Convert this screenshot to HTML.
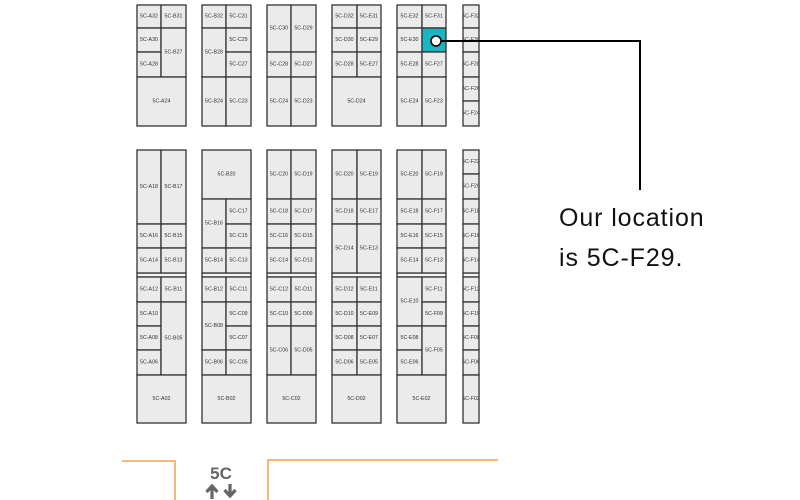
<!DOCTYPE html>
<html><head><meta charset="utf-8"><style>
html,body{margin:0;padding:0;background:#fff;width:800px;height:500px;overflow:hidden}
svg{display:block}
.c{fill:#ebebeb;stroke:#333;stroke-width:1.3}
.t{font-family:"Liberation Sans",sans-serif;font-size:5.3px;fill:#333;text-anchor:middle;dominant-baseline:central}
</style></head><body>
<svg id="s" width="800" height="500" viewBox="0 0 800 500" xmlns="http://www.w3.org/2000/svg">
<g id="g"></g>
<line x1="436" y1="41" x2="640" y2="41" stroke="#000" stroke-width="2"/>
<line x1="640" y1="40" x2="640" y2="190" stroke="#000" stroke-width="2"/>
<circle cx="436" cy="41" r="5" fill="#fff" stroke="#000" stroke-width="1.5"/>
<text x="559" y="226" font-family="Liberation Sans, sans-serif" font-size="25" letter-spacing="0.9" fill="#111">Our location</text>
<text x="559" y="266" font-family="Liberation Sans, sans-serif" font-size="25" letter-spacing="0.9" fill="#111">is 5C-F29.</text>
<polyline points="122,461 175,461 175,500" fill="none" stroke="#f5a04a" stroke-width="1.5"/>
<polyline points="268,500 268,460 498,460" fill="none" stroke="#f5a04a" stroke-width="1.5"/>
<text x="221" y="479" font-family="Liberation Sans, sans-serif" font-size="17" font-weight="bold" fill="#666" text-anchor="middle">5C</text>
<path d="M212,499 V488 M206.5,492 L212,486 L217.5,492" fill="none" stroke="#666" stroke-width="3.2"/>
<path d="M230,484 V495 M224.5,490 L230,496 L235.5,490" fill="none" stroke="#666" stroke-width="3.2"/>
</svg>
<script>
var cells=[
[137,5,161,28,"5C-A32"],[161,5,186,28,"5C-B31"],[137,28,161,52,"5C-A30"],[137,52,161,77,"5C-A28"],[161,28,186,77,"5C-B27"],[137,77,186,126,"5C-A24"],
[202,5,226,28,"5C-B32"],[226,5,251,28,"5C-C31"],[202,28,226,77,"5C-B28"],[226,28,251,52,"5C-C29"],[226,52,251,77,"5C-C27"],[202,77,226,126,"5C-B24"],[226,77,251,126,"5C-C23"],
[267,5,291,52,"5C-C30"],[291,5,316,52,"5C-D29"],[267,52,291,77,"5C-C28"],[291,52,316,77,"5C-D27"],[267,77,291,126,"5C-C24"],[291,77,316,126,"5C-D23"],
[332,5,357,28,"5C-D32"],[357,5,381,28,"5C-E31"],[332,28,357,52,"5C-D30"],[357,28,381,52,"5C-E29"],[332,52,357,77,"5C-D28"],[357,52,381,77,"5C-E27"],[332,77,381,126,"5C-D24"],
[397,5,422,28,"5C-E32"],[422,5,446,28,"5C-F31"],[397,28,422,52,"5C-E30"],[422,28,446,52,"",1],[397,52,422,77,"5C-E28"],[422,52,446,77,"5C-F27"],[397,77,422,126,"5C-E24"],[422,77,446,126,"5C-F23"],
[463,5,479,28,"5C-F32",2],[463,28,479,52,"5C-F30",2],[463,52,479,77,"5C-F28",2],[463,77,479,101,"5C-F26",2],[463,101,479,126,"5C-F24",2],
[137,150,161,224,"5C-A18"],[161,150,186,224,"5C-B17"],[137,224,161,248,"5C-A16"],[161,224,186,248,"5C-B15"],[137,248,161,273,"5C-A14"],[161,248,186,273,"5C-B13"],
[137,277,161,302,"5C-A12"],[161,277,186,302,"5C-B11"],[137,302,161,326,"5C-A10"],[137,326,161,350,"5C-A08"],[137,350,161,375,"5C-A06"],[161,302,186,375,"5C-B05"],[137,375,186,423,"5C-A02"],
[202,150,251,199,"5C-B20"],[202,199,226,248,"5C-B16"],[226,199,251,224,"5C-C17"],[226,224,251,248,"5C-C15"],[202,248,226,273,"5C-B14"],[226,248,251,273,"5C-C13"],
[202,277,226,302,"5C-B12"],[226,277,251,302,"5C-C11"],[202,302,226,350,"5C-B08"],[226,302,251,326,"5C-C09"],[226,326,251,350,"5C-C07"],[202,350,226,375,"5C-B06"],[226,350,251,375,"5C-C05"],[202,375,251,423,"5C-B02"],
[267,150,291,199,"5C-C20"],[291,150,316,199,"5C-D19"],[267,199,291,224,"5C-C18"],[291,199,316,224,"5C-D17"],[267,224,291,248,"5C-C16"],[291,224,316,248,"5C-D15"],[267,248,291,273,"5C-C14"],[291,248,316,273,"5C-D13"],
[267,277,291,302,"5C-C12"],[291,277,316,302,"5C-D11"],[267,302,291,326,"5C-C10"],[291,302,316,326,"5C-D09"],[267,326,291,375,"5C-C06"],[291,326,316,375,"5C-D05"],[267,375,316,423,"5C-C02"],
[332,150,357,199,"5C-D20"],[357,150,381,199,"5C-E19"],[332,199,357,224,"5C-D18"],[357,199,381,224,"5C-E17"],[332,224,357,273,"5C-D14"],[357,224,381,273,"5C-E13"],
[332,277,357,302,"5C-D12"],[357,277,381,302,"5C-E11"],[332,302,357,326,"5C-D10"],[357,302,381,326,"5C-E09"],[332,326,357,350,"5C-D08"],[357,326,381,350,"5C-E07"],[332,350,357,375,"5C-D06"],[357,350,381,375,"5C-E05"],[332,375,381,423,"5C-D02"],
[397,150,422,199,"5C-E20"],[422,150,446,199,"5C-F19"],[397,199,422,224,"5C-E18"],[422,199,446,224,"5C-F17"],[397,224,422,248,"5C-E16"],[422,224,446,248,"5C-F15"],[397,248,422,273,"5C-E14"],[422,248,446,273,"5C-F13"],
[397,277,422,326,"5C-E10"],[422,277,446,302,"5C-F11"],[422,302,446,326,"5C-F09"],[397,326,422,350,"5C-E08"],[397,350,422,375,"5C-E06"],[422,326,446,375,"5C-F05"],[397,375,446,423,"5C-E02"],
[463,150,479,174,"5C-F22",2],[463,174,479,199,"5C-F20",2],[463,199,479,224,"5C-F18",2],[463,224,479,248,"5C-F16",2],[463,248,479,273,"5C-F14",2],
[463,277,479,302,"5C-F12",2],[463,302,479,326,"5C-F10",2],[463,326,479,350,"5C-F08",2],[463,350,479,375,"5C-F06",2],[463,375,479,423,"5C-F02",2]
];
var g=document.getElementById("g"),h="";
[[137,186],[202,251],[267,316],[332,381],[397,446],[463,479]].forEach(function(b){
 h+='<rect x="'+b[0]+'" y="273" width="'+(b[1]-b[0])+'" height="4" fill="#f4f4f4" stroke="#333" stroke-width="1.3"/>';
});
cells.forEach(function(c){
 var fill=c[5]==1?' style="fill:#1ab5c0"':'';
 h+='<rect class="c"'+fill+' x="'+c[0]+'" y="'+c[1]+'" width="'+(c[2]-c[0])+'" height="'+(c[3]-c[1])+'"/>';
 if(c[4]){var cx=c[5]==2?c[0]+8:(c[0]+c[2])/2;
 h+='<text class="t" x="'+cx+'" y="'+(c[1]+c[3])/2+'">'+c[4]+'</text>';}
});
g.innerHTML=h;
</script>
</body></html>
